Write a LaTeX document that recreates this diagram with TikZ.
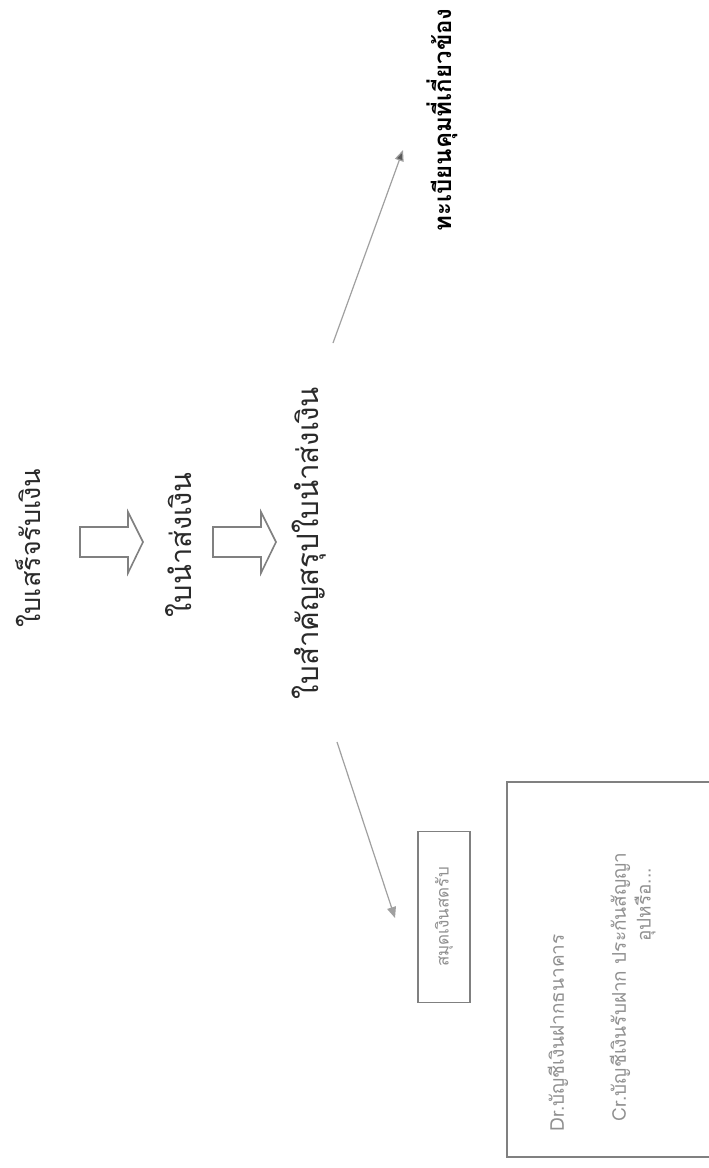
\documentclass[tikz,border=0pt]{standalone}
\usepackage{fontspec}
\newfontfamily\thaifont[Script=Thai]{Loma}
\usetikzlibrary{arrows.meta,positioning}
\definecolor{inkgray}{HTML}{2A2A2A}
\definecolor{linegray}{HTML}{A0A0A0}
\definecolor{tipgray}{HTML}{5A5A5A}

\begin{document}
\begin{tikzpicture}[x=1pt,y=-1pt,
    doc/.style={rotate=90, text=inkgray, inner sep=0},
    blockarrow/.style={draw=linegray!80!black, line width=1.6pt, fill=white},
    thinarrow/.style={draw=linegray, line width=1.2pt},
    smalltext/.style={rotate=90, text=linegray!90!black, inner sep=0, font=\thaifont\fontsize{19}{22}\selectfont}]
    \fill[white] (0,0) rectangle (709,1168);
    \useasboundingbox (0,0) rectangle (709,1168);
    % documents in the flow
    \node[doc, font=\thaifont\fontsize{27}{30}\selectfont] (receipt) at (28,548) {ใบเสร็จรับเงิน};
    \node[doc, font=\thaifont\fontsize{29}{32}\selectfont] (deposit) at (179,545) {ใบนำส่งเงิน};
    \node[doc, font=\thaifont\fontsize{29.5}{33}\selectfont] (voucher) at (309,543) {ใบสำคัญสรุปใบนำส่งเงิน};
    \node[doc, text=black, font=\thaifont\bfseries\fontsize{24}{27}\selectfont] (register) at (442,120) {ทะเบียนคุมที่เกี่ยวข้อง};
    % block arrows
    \foreach \ax in {80,213}{
        \draw[blockarrow] (\ax,527) -- ++(48,0) -- ++(0,-15) -- ++(15,30) -- ++(-15,31) -- ++(0,-16) -- ++(-48,0) -- cycle;
    }
    % cash book
    \node[smalltext, font=\thaifont\fontsize{17}{20}\selectfont, draw=linegray!80!black, line width=1.4pt, minimum width=171, minimum height=52] (cashbook) at (444,917) {สมุดเงินสดรับ};
    % journal entry box
    \draw[draw=linegray!80!black, line width=1.4pt] (712,782) -- (507,782) -- (507,1157) -- (712,1157);
    \node[smalltext] (debit) at (558,1033) {Dr.บัญชีเงินฝากธนาคาร};
    \node[smalltext] (credit) at (620,987) {Cr.บัญชีเงินรับฝาก ประกันสัญญา};
    \node[smalltext] (credit2) at (645,905) {อุปหรือ...};
    % thin arrows
    \coordinate (upstart) at (333,343);
    \coordinate (upend) at (403,150);
    \coordinate (downstart) at (337,742);
    \coordinate (downend) at (395,918);
    \draw[thinarrow, -{Triangle[length=11pt,width=9pt,fill=tipgray]}] (upstart) -- (upend);
    \draw[thinarrow, -{Triangle[length=11pt,width=9pt]}] (downstart) -- (downend);
\end{tikzpicture}
\end{document}
